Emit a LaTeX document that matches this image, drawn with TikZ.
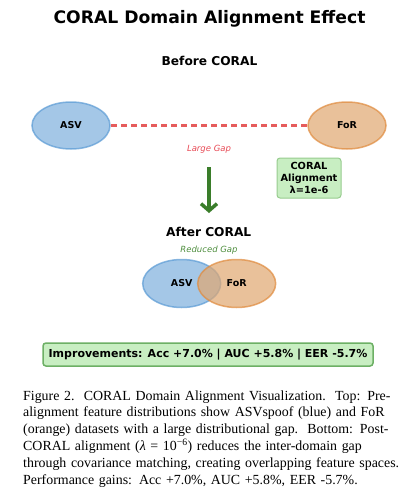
\documentclass[tikz,border=0pt]{standalone}
\usepackage{fontspec}
\setmainfont{Liberation Serif}
\newfontfamily\dejavu{DejaVu Sans}
\usetikzlibrary{arrows.meta,shapes.geometric,decorations.markings}
\definecolor{asvc}{HTML}{7EB0DE}
\definecolor{asvd}{HTML}{5B9BD5}
\definecolor{forc}{HTML}{E1A770}
\definecolor{ford}{HTML}{E08A3C}
\definecolor{gapred}{HTML}{E84A55}
\definecolor{dashred}{HTML}{E65C5C}
\definecolor{greentxt}{HTML}{4E8E3E}
\definecolor{arrowc}{HTML}{3A7D2A}
\definecolor{light}{HTML}{C8EEC2}
\definecolor{accent}{HTML}{97CC8E}
\definecolor{accentd}{HTML}{6DB065}
\tikzset{blob/.style={ellipse,line width=1.5pt,minimum width=78pt,minimum height=47pt,inner sep=0pt,fill opacity=.7,draw opacity=.7,text opacity=1,font=\dejavu\bfseries\fontsize{9.5}{11}\selectfont},asvblob/.style={blob,fill=asvc,draw=asvd},forblob/.style={blob,fill=forc,draw=ford},gbox/.style={draw=accent,fill=light,line width=1pt,rounded corners=3pt,align=center,inner sep=0pt,font=\dejavu\bfseries\fontsize{9.8}{11.7}\selectfont},head/.style={anchor=base,font=\dejavu\bfseries\fontsize{12.2}{14}\selectfont},note/.style={font=\dejavu\itshape\fontsize{8.5}{10}\selectfont},gapdash/.style={decoration={markings,mark=between positions 0 and 1 step 10pt with {\fill[dashred] (0pt,-1.1pt) rectangle (6pt,1.1pt);}},postaction={decorate}},arr/.style={-{Straight Barb[length=7pt,width=16pt]},line width=3.5pt,draw=arrowc}}

\begin{document}
\begin{tikzpicture}[x=1pt,y=-1pt]
\useasboundingbox[fill=white] (0,0) rectangle (412,490);
\node[head,font=\dejavu\bfseries\fontsize{17.2}{20}\selectfont] (title) at (209.5,23) {CORAL Domain Alignment Effect};
% before alignment
\node[head] (before) at (209.5,65.7) {Before CORAL};
\node[asvblob] (asv1) at (71,125.5) {ASV};
\node[forblob] (for1) at (347,125.5) {FoR};
\path[gapdash] (asv1) -- (for1);
\node[note,text=gapred] (large) at (209,149.5) {Large Gap};
\node[gbox,minimum width=64pt,minimum height=40pt] (coral) at (309,178) {CORAL\\Alignment\\λ=1e-6};
\coordinate (arrtop) at (209,167);
\coordinate (arrbot) at (209,213);
\draw[arr] (arrtop) -- (arrbot);
% after alignment
\node[head] (after) at (208.7,236.7) {After CORAL};
\node[note,text=greentxt] (reduced) at (209,250) {Reduced Gap};
\node[asvblob,minimum height=48pt] (asv2) at (181.7,283.5) {ASV};
\node[forblob,minimum height=48pt] (for2) at (236.7,283.5) {FoR};
\node[gbox,draw=accentd,line width=1.5pt,minimum width=330pt,minimum height=23pt,font=\dejavu\bfseries\fontsize{11}{13}\selectfont] (improve) at (208,354.5) {Improvements: Acc +7.0\% | AUC +5.8\% | EER -5.7\%};
% caption
\node[anchor=north west,inner sep=0pt,text width=367pt,align=left,font=\fontsize{13.9}{16.8}\selectfont] (caption) at (23,390.3) {%
\makebox[367pt][s]{Figure 2.\ \ CORAL Domain Alignment Visualization.\ \ Top: Pre-}\\
\makebox[367pt][s]{alignment feature distributions show ASVspoof (blue) and FoR}\\
\makebox[367pt][s]{(orange) datasets with a large distributional gap.\ \ Bottom: Post-}\\
\makebox[367pt][s]{CORAL alignment (\textit{λ} = 10\textsuperscript{−6}) reduces the inter-domain gap}\\
\makebox[367pt][s]{through covariance matching, creating overlapping feature spaces.}\\
Performance gains: Acc +7.0\%, AUC +5.8\%, EER -5.7\%.};
\end{tikzpicture}
\end{document}
